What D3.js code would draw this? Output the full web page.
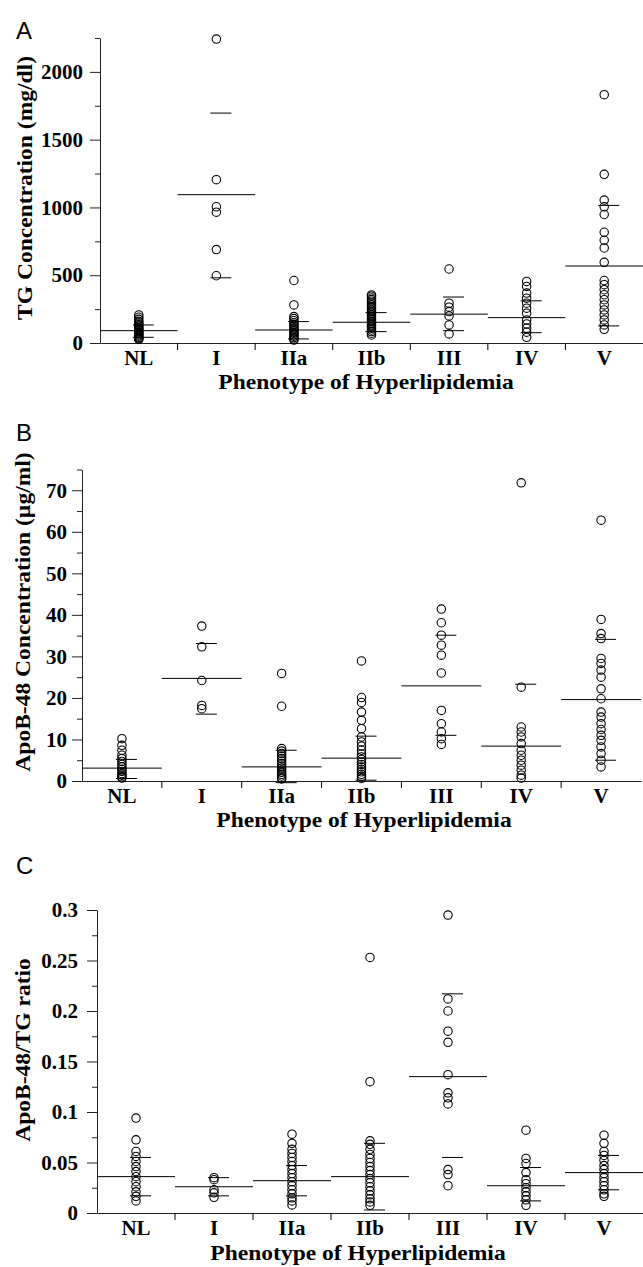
<!DOCTYPE html>
<html>
<head>
<meta charset="utf-8">
<script src="https://cdn.jsdelivr.net/npm/d3@7"></script>
<style>
  body { margin: 0; background: #fff; }
  svg { display: block; }
</style>
</head>
<body>
<div id="chart"></div>
<script>
// categorias
const phenotypes = ["NL", "I", "IIa", "IIb", "III", "IV", "V"];

// panel A: TG (mg/dl)
const tgPoints = [
  [207, 190, 175, 160, 148, 135, 125, 115, 105, 98, 90, 82, 75, 68, 60, 52, 45, 38, 32, 27],
  [2242, 1205, 1005, 965, 689, 496],
  [461, 281, 195, 180, 165, 150, 138, 125, 112, 100, 90, 80, 70, 60, 50, 40, 30, 22],
  [355, 345, 332, 320, 308, 295, 282, 270, 258, 245, 232, 220, 208, 195, 182, 170, 158, 145, 132, 120, 108, 96, 84, 72, 59],
  [546, 294, 264, 232, 200, 133, 67],
  [454, 417, 368, 331, 294, 257, 220, 170, 141, 109, 80, 42],
  [1832, 1244, 1054, 1005, 948, 817, 758, 701, 595, 461, 430, 393, 356, 319, 281, 244, 207, 170, 133, 101]
];
const tgMean = [91, 1094, 96, 153, 213, 187, 568];
const tgSdHigh = [133, 1696, 158, 224, 339, 311, 1015];
const tgSdLow = [42, 481, 30, 84, 91, 76, 126];
const tgTicks = [0, 500, 1000, 1500, 2000];
const tgMinor = [250, 750, 1250, 1750, 2250];

// panel B: ApoB-48 (ug/ml)
const apoPoints = [
  [10.2, 8.6, 7.4, 6.2, 5.4, 4.7, 4.0, 3.4, 2.8, 2.3, 1.8, 1.4, 1.0, 0.7],
  [37.3, 32.3, 24.2, 18.2, 17.4],
  [25.9, 18.0, 7.8, 7.2, 6.6, 6.0, 5.4, 4.8, 4.2, 3.6, 3.1, 2.6, 2.1, 1.6, 1.2, 0.8, 0.5],
  [28.9, 20.1, 18.9, 16.6, 14.6, 12.6, 10.6, 9.4, 8.4, 7.4, 6.5, 5.8, 5.2, 4.6, 4.0, 3.4, 2.8, 2.2, 1.6, 1.1, 0.6],
  [41.4, 38.1, 35.1, 32.7, 30.3, 26.0, 17.0, 13.8, 11.8, 10.2, 8.8],
  [71.8, 22.6, 13.0, 11.8, 10.6, 9.0, 7.4, 6.2, 5.0, 3.8, 2.6, 1.4, 0.7],
  [62.8, 38.9, 35.5, 34.3, 29.5, 28.3, 26.7, 25.0, 22.2, 19.8, 16.6, 15.4, 13.8, 12.4, 11.0, 9.8, 8.2, 6.6, 5.0, 3.4]
];
const apoMean = [3.1, 24.7, 3.4, 5.5, 22.9, 8.4, 19.6];
const apoSdHigh = [5.2, 33.1, 7.4, 10.8, 35.1, 23.3, 34.1];
const apoSdLow = [0.6, 16.1, -0.4, 0.2, 11.0, null, 5.0];
const apoTicks = [0, 10, 20, 30, 40, 50, 60, 70];
const apoMinor = [5, 15, 25, 35, 45, 55, 65, 75];

// panel C: ApoB-48/TG
const ratioPoints = [
  [0.094, 0.0725, 0.061, 0.056, 0.051, 0.046, 0.041, 0.036, 0.031, 0.026, 0.021, 0.0165, 0.012],
  [0.035, 0.033, 0.023, 0.020, 0.0155],
  [0.078, 0.069, 0.063, 0.059, 0.055, 0.051, 0.047, 0.043, 0.039, 0.035, 0.031, 0.027, 0.023, 0.019, 0.015, 0.012, 0.008],
  [0.253, 0.130, 0.0715, 0.068, 0.063, 0.058, 0.054, 0.050, 0.046, 0.042, 0.038, 0.034, 0.030, 0.026, 0.022, 0.018, 0.014, 0.011, 0.0076],
  [0.295, 0.212, 0.200, 0.180, 0.169, 0.137, 0.119, 0.114, 0.108, 0.043, 0.038, 0.027],
  [0.082, 0.054, 0.049, 0.040, 0.033, 0.029, 0.025, 0.021, 0.017, 0.013, 0.0076],
  [0.077, 0.069, 0.061, 0.057, 0.052, 0.047, 0.043, 0.039, 0.035, 0.031, 0.027, 0.023, 0.019, 0.0165]
];
const ratioMean = [0.036, 0.026, 0.032, 0.036, 0.135, 0.027, 0.040];
const ratioSdHigh = [0.055, 0.035, 0.047, 0.069, 0.217, 0.045, 0.057];
const ratioSdLow = [0.017, 0.017, 0.017, 0.003, 0.055, 0.012, 0.023];
const ratioTicks = [0, 0.05, 0.1, 0.15, 0.2, 0.25, 0.3];
const ratioMinor = [0.025, 0.075, 0.125, 0.175, 0.225, 0.275];

const serif = "'Liberation Serif', 'Times New Roman', serif";
const sans = "'Liberation Sans', Arial, sans-serif";

const svg = d3.select("#chart")
  .append("svg")
  .attr("width", 643)
  .attr("height", 1267);

svg.append("rect").attr("width", 643).attr("height", 1267).attr("fill", "#fff");

function drawPanel(p) {
  const x = d3.scaleBand().domain(phenotypes).range([p.left, p.right]);
  const y = d3.scaleLinear().domain(p.domain).range([p.bottom, p.top]);
  const g = svg.append("g");

  // eje y, ticks mayores
  g.append("g")
    .attr("transform", `translate(${p.left},0)`)
    .call(d3.axisLeft(y).tickValues(p.ticks).tickSize(10).tickSizeOuter(0)
      .tickPadding(p.tickPad).tickFormat(d => String(d)));

  // ticks menores
  g.append("g")
    .attr("transform", `translate(${p.left},0)`)
    .call(d3.axisLeft(y).tickValues(p.minor).tickSize(5).tickSizeOuter(0).tickFormat(""))
    .select(".domain").remove();

  // eje x, etiquetas centradas
  g.append("g")
    .attr("transform", `translate(0,${p.bottom})`)
    .call(d3.axisBottom(x).tickSize(0).tickSizeOuter(0).tickPadding(p.labelPad));

  // ticks entre categorias
  g.append("g")
    .selectAll("line")
    .data(phenotypes.slice(0, -1))
    .join("line")
    .attr("x1", d => x(d) + x.bandwidth())
    .attr("x2", d => x(d) + x.bandwidth())
    .attr("y1", p.bottom)
    .attr("y2", p.bottom + 7)
    .attr("stroke", "#000");

  g.selectAll(".domain").attr("stroke", "#222");
  g.selectAll(".tick line").attr("stroke", "#222");
  g.selectAll(".tick text")
    .attr("fill", "#000")
    .style("font-family", serif)
    .style("font-weight", "bold")
    .style("font-size", "21px");

  // lineas de media
  g.append("g")
    .selectAll("line")
    .data(phenotypes)
    .join("line")
    .attr("x1", d => x(d))
    .attr("x2", d => x(d) + x.bandwidth())
    .attr("y1", (d, i) => y(p.mean[i]))
    .attr("y2", (d, i) => y(p.mean[i]))
    .attr("stroke", "#000")
    .attr("stroke-width", 1);

  // lineas de DE
  const sd = [];
  phenotypes.forEach((d, i) => {
    sd.push({ k: d, v: p.sdHigh[i] });
    if (p.sdLow[i] !== null) sd.push({ k: d, v: p.sdLow[i] });
  });
  g.append("g")
    .selectAll("line")
    .data(sd)
    .join("line")
    .attr("x1", d => x(d.k) + x.bandwidth() / 2 - 6)
    .attr("x2", d => x(d.k) + x.bandwidth() / 2 + 15)
    .attr("y1", d => y(d.v))
    .attr("y2", d => y(d.v))
    .attr("stroke", "#000")
    .attr("stroke-width", 1);

  // puntos
  const pts = [];
  phenotypes.forEach((d, i) => p.points[i].forEach(v => pts.push({ k: d, v: v })));
  g.append("g")
    .selectAll("circle")
    .data(pts)
    .join("circle")
    .attr("cx", d => x(d.k) + x.bandwidth() / 2)
    .attr("cy", d => y(d.v))
    .attr("r", 4.2)
    .attr("fill", "none")
    .attr("stroke", "#000")
    .attr("stroke-width", 1.1);

  // titulo eje x
  g.append("text")
    .attr("class", "wide")
    .attr("x", p.titleX)
    .attr("y", p.bottom + p.titleDy)
    .attr("text-anchor", "middle")
    .style("font-family", serif)
    .style("font-weight", "bold")
    .style("font-size", "21px")
    .text("Phenotype of Hyperlipidemia");

  // titulo eje y
  g.append("text")
    .attr("class", "wide")
    .attr("transform", `translate(${p.yTitleX},${p.yTitleY}) rotate(-90)`)
    .attr("text-anchor", "middle")
    .style("font-family", serif)
    .style("font-weight", "bold")
    .style("font-size", "21px")
    .text(p.yTitle);

  // letra del panel
  svg.append("text")
    .attr("x", 16)
    .attr("y", p.letterY)
    .style("font-family", sans)
    .style("font-size", "24px")
    .text(p.letter);
}

drawPanel({
  letter: "A", letterY: 39,
  left: 100, right: 643, top: 38, bottom: 343,
  domain: [0, 2250], ticks: tgTicks, minor: tgMinor,
  points: tgPoints, mean: tgMean, sdHigh: tgSdHigh, sdLow: tgSdLow,
  tickPad: 7, labelPad: 7, titleX: 366, titleDy: 46,
  yTitle: "TG Concentration (mg/dl)", yTitleX: 32, yTitleY: 188
});

drawPanel({
  letter: "B", letterY: 441,
  left: 82, right: 641, top: 469.5, bottom: 781,
  domain: [0, 75], ticks: apoTicks, minor: apoMinor,
  points: apoPoints, mean: apoMean, sdHigh: apoSdHigh, sdLow: apoSdLow,
  tickPad: 5, labelPad: 7, titleX: 364, titleDy: 46,
  yTitle: "ApoB-48 Concentration (\u00b5g/ml)", yTitleX: 30, yTitleY: 612
});

drawPanel({
  letter: "C", letterY: 874,
  left: 97, right: 643, top: 910, bottom: 1213,
  domain: [0, 0.3], ticks: ratioTicks, minor: ratioMinor,
  points: ratioPoints, mean: ratioMean, sdHigh: ratioSdHigh, sdLow: ratioSdLow,
  tickPad: 9, labelPad: 7, titleX: 358, titleDy: 47,
  yTitle: "ApoB-48/TG ratio", yTitleX: 30, yTitleY: 1050
});

// ensanchar un poco los titulos como en la figura
svg.selectAll("text.wide").each(function () {
  const t = d3.select(this);
  t.attr("textLength", this.getComputedTextLength() * 1.12)
    .attr("lengthAdjust", "spacingAndGlyphs");
});
</script>
</body>
</html>
